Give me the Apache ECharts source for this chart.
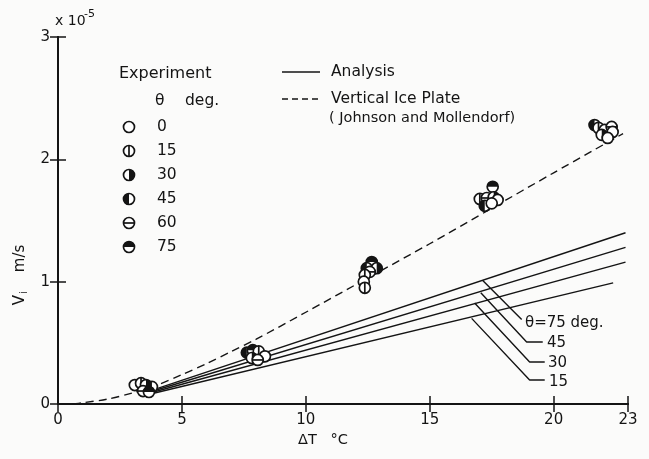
<!DOCTYPE html>
<html><head><meta charset="utf-8">
<script src="https://cdn.jsdelivr.net/npm/echarts@6/dist/echarts.min.js"></script>
<style>html,body{margin:0;padding:0;background:#fbfbfa}#c{width:649px;height:459px}</style>
</head><body><div id="c"></div>
<script>
// ---- data (ΔT in °C, Vi in units of 1e-5 m/s) ----
const xTickMax = 23;
const yTickMax = 3;
const angleLabels = ['0', '15', '30', '45', '60', '75'];
// experiment points: [ΔT, Vi, angle index]
const expDT4 = [[3.10,0.155,0],[3.35,0.17,1],[3.55,0.155,2],[3.79,0.14,3],[3.43,0.106,4],[3.67,0.098,5]];
const expDT8 = [[7.62,0.42,3],[7.86,0.44,5],[8.10,0.43,1],[8.35,0.39,0],[7.82,0.376,2],[8.06,0.36,4]];
const expDT12 = [[12.66,1.16,5],[12.46,1.11,3],[12.86,1.11,2],[12.58,1.08,4],[12.38,1.055,1],[12.34,1.0,0],[12.38,0.95,1]];
const expDT17 = [[17.54,1.775,5],[17.02,1.676,1],[17.30,1.684,4],[17.58,1.69,2],[17.74,1.668,0],[17.22,1.62,3],[17.50,1.64,0]];
const expDT22 = [[21.65,2.28,3],[21.81,2.257,1],[22.06,2.24,0],[22.34,2.265,4],[22.38,2.224,0],[21.94,2.2,2],[22.18,2.175,0]];
// vertical ice plate (Johnson and Mollendorf)
const plateCurve = [[0.6,0],[1,0.01],[2,0.04],[3,0.09],[4,0.155],[5,0.24],[6,0.33],[7,0.43],[8,0.53],[10,0.75],[12.5,1.03],[15,1.31],[17.5,1.6],[20,1.89],[22.8,2.21]];
// analysis lines
const analysis75 = [[3.9,0.12],[22.9,1.40]];
const analysis45 = [[3.9,0.11],[22.9,1.28]];
const analysis30 = [[3.9,0.10],[22.9,1.16]];
const analysis15 = [[3.9,0.09],[22.4,0.99]];
// leader lines for the analysis labels
const leader75 = [[17.14,1.01],[18.71,0.69]];
const leader45 = [[17.06,0.91],[18.91,0.507],[19.56,0.507]];
const leader30 = [[16.81,0.826],[19.03,0.343],[19.64,0.343]];
const leader15 = [[16.69,0.70],[19.03,0.196],[19.64,0.196]];

const INK = '#141414';
const FONT = 'DejaVu Sans';

function markerEls(cx, cy, t) {
  const r = 5.5, lw = 1.7;
  const els = [{type:'circle', shape:{cx, cy, r}, style:{fill:'#fff', stroke:INK, lineWidth:lw}}];
  const half = (s, e) => ({type:'sector', shape:{cx, cy, r0:0, r:r, startAngle:s, endAngle:e, clockwise:true}, style:{fill:INK}});
  if (t === 1) els.push({type:'line', shape:{x1:cx, y1:cy-r, x2:cx, y2:cy+r}, style:{stroke:INK, lineWidth:lw}});
  if (t === 2) els.push(half(-Math.PI/2, Math.PI/2));
  if (t === 3) els.push(half(Math.PI/2, Math.PI*1.5));
  if (t === 4) els.push({type:'line', shape:{x1:cx-r, y1:cy, x2:cx+r, y2:cy}, style:{stroke:INK, lineWidth:lw}});
  if (t === 5) els.push(half(Math.PI, Math.PI*2));
  return els;
}

const allExp = [].concat(expDT4, expDT8, expDT12, expDT17, expDT22);

const lineSeries = (data, dashed) => ({
  type:'line', data, symbol:'none', smooth: dashed ? 0.3 : false, silent:true, z:2,
  lineStyle:{color:INK, width:1.4, type: dashed ? [8,5] : 'solid'}
});

const txt = (x, y, text, size, align) => ({
  type:'text', x, y, style:{text, fill:INK, font: (size||15.5) + 'px "' + FONT + '"', textAlign: align || 'left', textVerticalAlign:'middle'}
});

const legendY = [127, 151, 175, 199, 223, 247];
const graphic = [
  txt(119, 74, 'Experiment', 16),
  txt(155, 101, 'θ', 15.5),
  txt(185, 101, 'deg.', 15.5),
  txt(331, 72, 'Analysis', 15.5),
  txt(331, 99, 'Vertical Ice Plate', 15.5),
  txt(329, 118, '( Johnson and Mollendorf)', 14.5),
  {type:'line', shape:{x1:282, y1:72, x2:320, y2:72}, style:{stroke:INK, lineWidth:1.4}},
  {type:'line', shape:{x1:282, y1:99, x2:320, y2:99}, style:{stroke:INK, lineWidth:1.4, lineDash:[6,4]}},
  txt(525, 323, 'θ=75 deg.', 15),
  txt(547, 343, '45', 15),
  txt(548, 363, '30', 15),
  txt(549, 382, '15', 15),
  txt(55, 21, 'x 10', 14),
  txt(84, 14, '-5', 11),
  txt(323, 440, 'ΔT   °C', 14.5, 'center'),
  {type:'text', x:20, y:275, rotation:Math.PI/2,
   style:{text:'{v|V}{s|i}{v|    m/s}', textAlign:'center', textVerticalAlign:'middle',
     rich:{v:{fill:INK, font:'15px "' + FONT + '"'}, s:{fill:INK, font:'10px "' + FONT + '"', padding:[8,0,0,1]}}}}
];
angleLabels.forEach((lab, i) => {
  graphic.push({type:'group', children: markerEls(129, legendY[i], i)});
  graphic.push(txt(157, legendY[i], lab, 15.5));
});

const axisCommon = {
  type:'value', min:0,
  axisLine:{lineStyle:{color:INK, width:2}},
  axisTick:{inside:true, length:8, lineStyle:{color:INK, width:1.5}},
  splitLine:{show:false},
  axisLabel:{color:INK, fontSize:15, fontFamily:FONT}
};

const chart = echarts.init(document.getElementById('c'), null, {renderer:'canvas'});
chart.setOption({
  backgroundColor:'#fbfbfa',
  animation:false,
  grid:{left:58, right:21, top:37, bottom:55},
  xAxis:[
    Object.assign({}, axisCommon, {position:'bottom', max:xTickMax, interval:5, axisLabel:Object.assign({}, axisCommon.axisLabel, {margin:9})}),
    Object.assign({}, axisCommon, {position:'top', max:xTickMax, interval:5, axisLabel:{show:false}})
  ],
  yAxis:[
    Object.assign({}, axisCommon, {position:'left', max:yTickMax, interval:1, axisLabel:Object.assign({}, axisCommon.axisLabel, {margin:8})}),
    Object.assign({}, axisCommon, {position:'right', max:yTickMax, interval:1, axisLabel:{show:false}})
  ],
  series:[
    lineSeries(plateCurve, true),
    lineSeries(analysis75), lineSeries(analysis45), lineSeries(analysis30), lineSeries(analysis15),
    lineSeries(leader75), lineSeries(leader45), lineSeries(leader30), lineSeries(leader15),
    {
      type:'custom', z:5, silent:true,
      data: allExp,
      encode:{x:0, y:1},
      renderItem(params, api) {
        const p = api.coord([api.value(0), api.value(1)]);
        return {type:'group', children: markerEls(p[0], p[1], api.value(2))};
      }
    }
  ],
  graphic
});
</script></body></html>
